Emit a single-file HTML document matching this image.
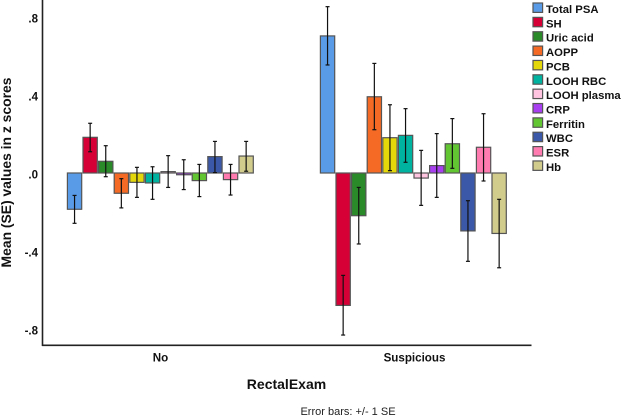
<!DOCTYPE html>
<html>
<head>
<meta charset="utf-8">
<style>
html,body{margin:0;padding:0;background:#fff;overflow:hidden;}
svg{display:block;font-family:"Liberation Sans",sans-serif;filter:blur(0.3px);}
</style>
</head>
<body>
<svg id="chart" width="621" height="415" viewBox="0 0 621 415" xmlns="http://www.w3.org/2000/svg">
<text transform="translate(11,172.5) rotate(-90)" text-anchor="middle" font-size="13.9" font-weight="bold" fill="#111">Mean (SE) values in z scores</text>
<text x="286.5" y="389" text-anchor="middle" font-size="14" font-weight="bold" fill="#111">RectalExam</text>
<text x="348" y="414.8" text-anchor="middle" font-size="11" fill="#222">Error bars: +/- 1 SE</text>
</svg>
<script>
const categories = ["No", "Suspicious"];
const seriesNames = ["Total PSA","SH","Uric acid","AOPP","PCB","LOOH RBC","LOOH plasma","CRP","Ferritin","WBC","ESR","Hb"];
const seriesColors = ["#5a9be8","#d60036","#2a8a2a","#f56a24","#e4d80a","#00b3a0","#ffc4e0","#a83ff0","#62c632","#3b58a8","#ff7bb0","#d2cc8c"];
const meansNo = [-0.186,0.183,0.06,-0.104,-0.048,-0.051,0.007,-0.009,-0.039,0.084,-0.034,0.087];
const upperNo = [-0.115,0.255,0.14,-0.029,0.029,0.032,0.089,0.068,0.044,0.162,0.044,0.162];
const lowerNo = [-0.258,0.109,-0.019,-0.179,-0.125,-0.135,-0.074,-0.085,-0.121,0.002,-0.113,0.009];
const meansSusp = [0.703,-0.679,-0.219,0.391,0.181,0.193,-0.026,0.038,0.15,-0.297,0.132,-0.31];
const upperSusp = [0.853,-0.525,-0.074,0.562,0.35,0.33,0.116,0.202,0.279,-0.142,0.304,-0.135];
const lowerSusp = [0.554,-0.831,-0.364,0.222,0.012,0.055,-0.166,-0.125,0.024,-0.453,-0.041,-0.486];
const yTicks = [0.8,0.4,0,-0.4,-0.8];
const yTickLabels = [".8",".4",".0","-.4","-.8"];

const svg = document.getElementById('chart');
const NS = 'http://www.w3.org/2000/svg';
function make(tag, attrs, parent){
  const el = document.createElementNS(NS, tag);
  for (const k in attrs) el.setAttribute(k, attrs[k]);
  (parent || svg).appendChild(el);
  return el;
}
function slug(s){ return s.toLowerCase().replace(/[^a-z0-9]+/g,'-'); }
const yScale = v => 173 - v * 195;
const groupStart = [67.4, 320.4];
const barStep = 15.6, barW = 14.3;
const xScale = (g, i) => groupStart[g] + i * barStep;

const means = [meansNo, meansSusp], uppers = [upperNo, upperSusp], lowers = [lowerNo, lowerSusp];

// bars first, so the error bars sit on top
categories.forEach((cat, g) => {
  means[g].forEach((v, i) => {
    const y0 = yScale(0), y1 = yScale(v);
    const r = make('rect', {x:xScale(g,i), y:Math.min(y0,y1), width:barW, height:Math.max(0.6,Math.abs(y1-y0)),
      fill:seriesColors[i], stroke:'#555', 'stroke-width':1.2});
    
    
  });
});
categories.forEach((cat, g) => {
  means[g].forEach((v, i) => {
    const cx = xScale(g,i) + barW/2;
    const e = make('g', {stroke:'#111', 'stroke-width':1.2});
    
    
    const yu = yScale(uppers[g][i]), yl = yScale(lowers[g][i]);
    make('line', {x1:cx, x2:cx, y1:yu, y2:yl}, e);
    make('line', {x1:cx-2, x2:cx+2, y1:yu, y2:yu}, e);
    make('line', {x1:cx-2, x2:cx+2, y1:yl, y2:yl}, e);
  });
});

// axes
const yAxis = make('line', {x1:42.5, x2:42.5, y1:0, y2:346, stroke:'#222', 'stroke-width':1.6});


const xAxis = make('line', {x1:42, x2:531.5, y1:345.3, y2:345.3, stroke:'#222', 'stroke-width':1.6});



yTicks.forEach((t, i) => {
  const lab = make('text', {x:38, y:yScale(t)+5.6, 'text-anchor':'end', 'font-size':11.5, 'font-weight':'bold', fill:'#111'});
  
  
  lab.textContent = yTickLabels[i];
});
const catX = [160.5, 414.5];
categories.forEach((cat, g) => {
  const lab = make('text', {x:catX[g], y:361.3, 'text-anchor':'middle', 'font-size':11.6, 'font-weight':'bold', fill:'#111'});
  
  
  lab.textContent = cat;
});

// legend
seriesNames.forEach((name, i) => {
  const y = 3 + i * 14.36;
  const g = make('g', {});
  
  
  make('rect', {x:533, y:y, width:9.6, height:9.4, fill:seriesColors[i], stroke:'#555', 'stroke-width':1.2}, g);
  const t = make('text', {x:546, y:y+10, 'font-size':11.3, 'font-weight':'bold', fill:'#111'}, g);
  t.textContent = name;
});
</script>
</body>
</html>
